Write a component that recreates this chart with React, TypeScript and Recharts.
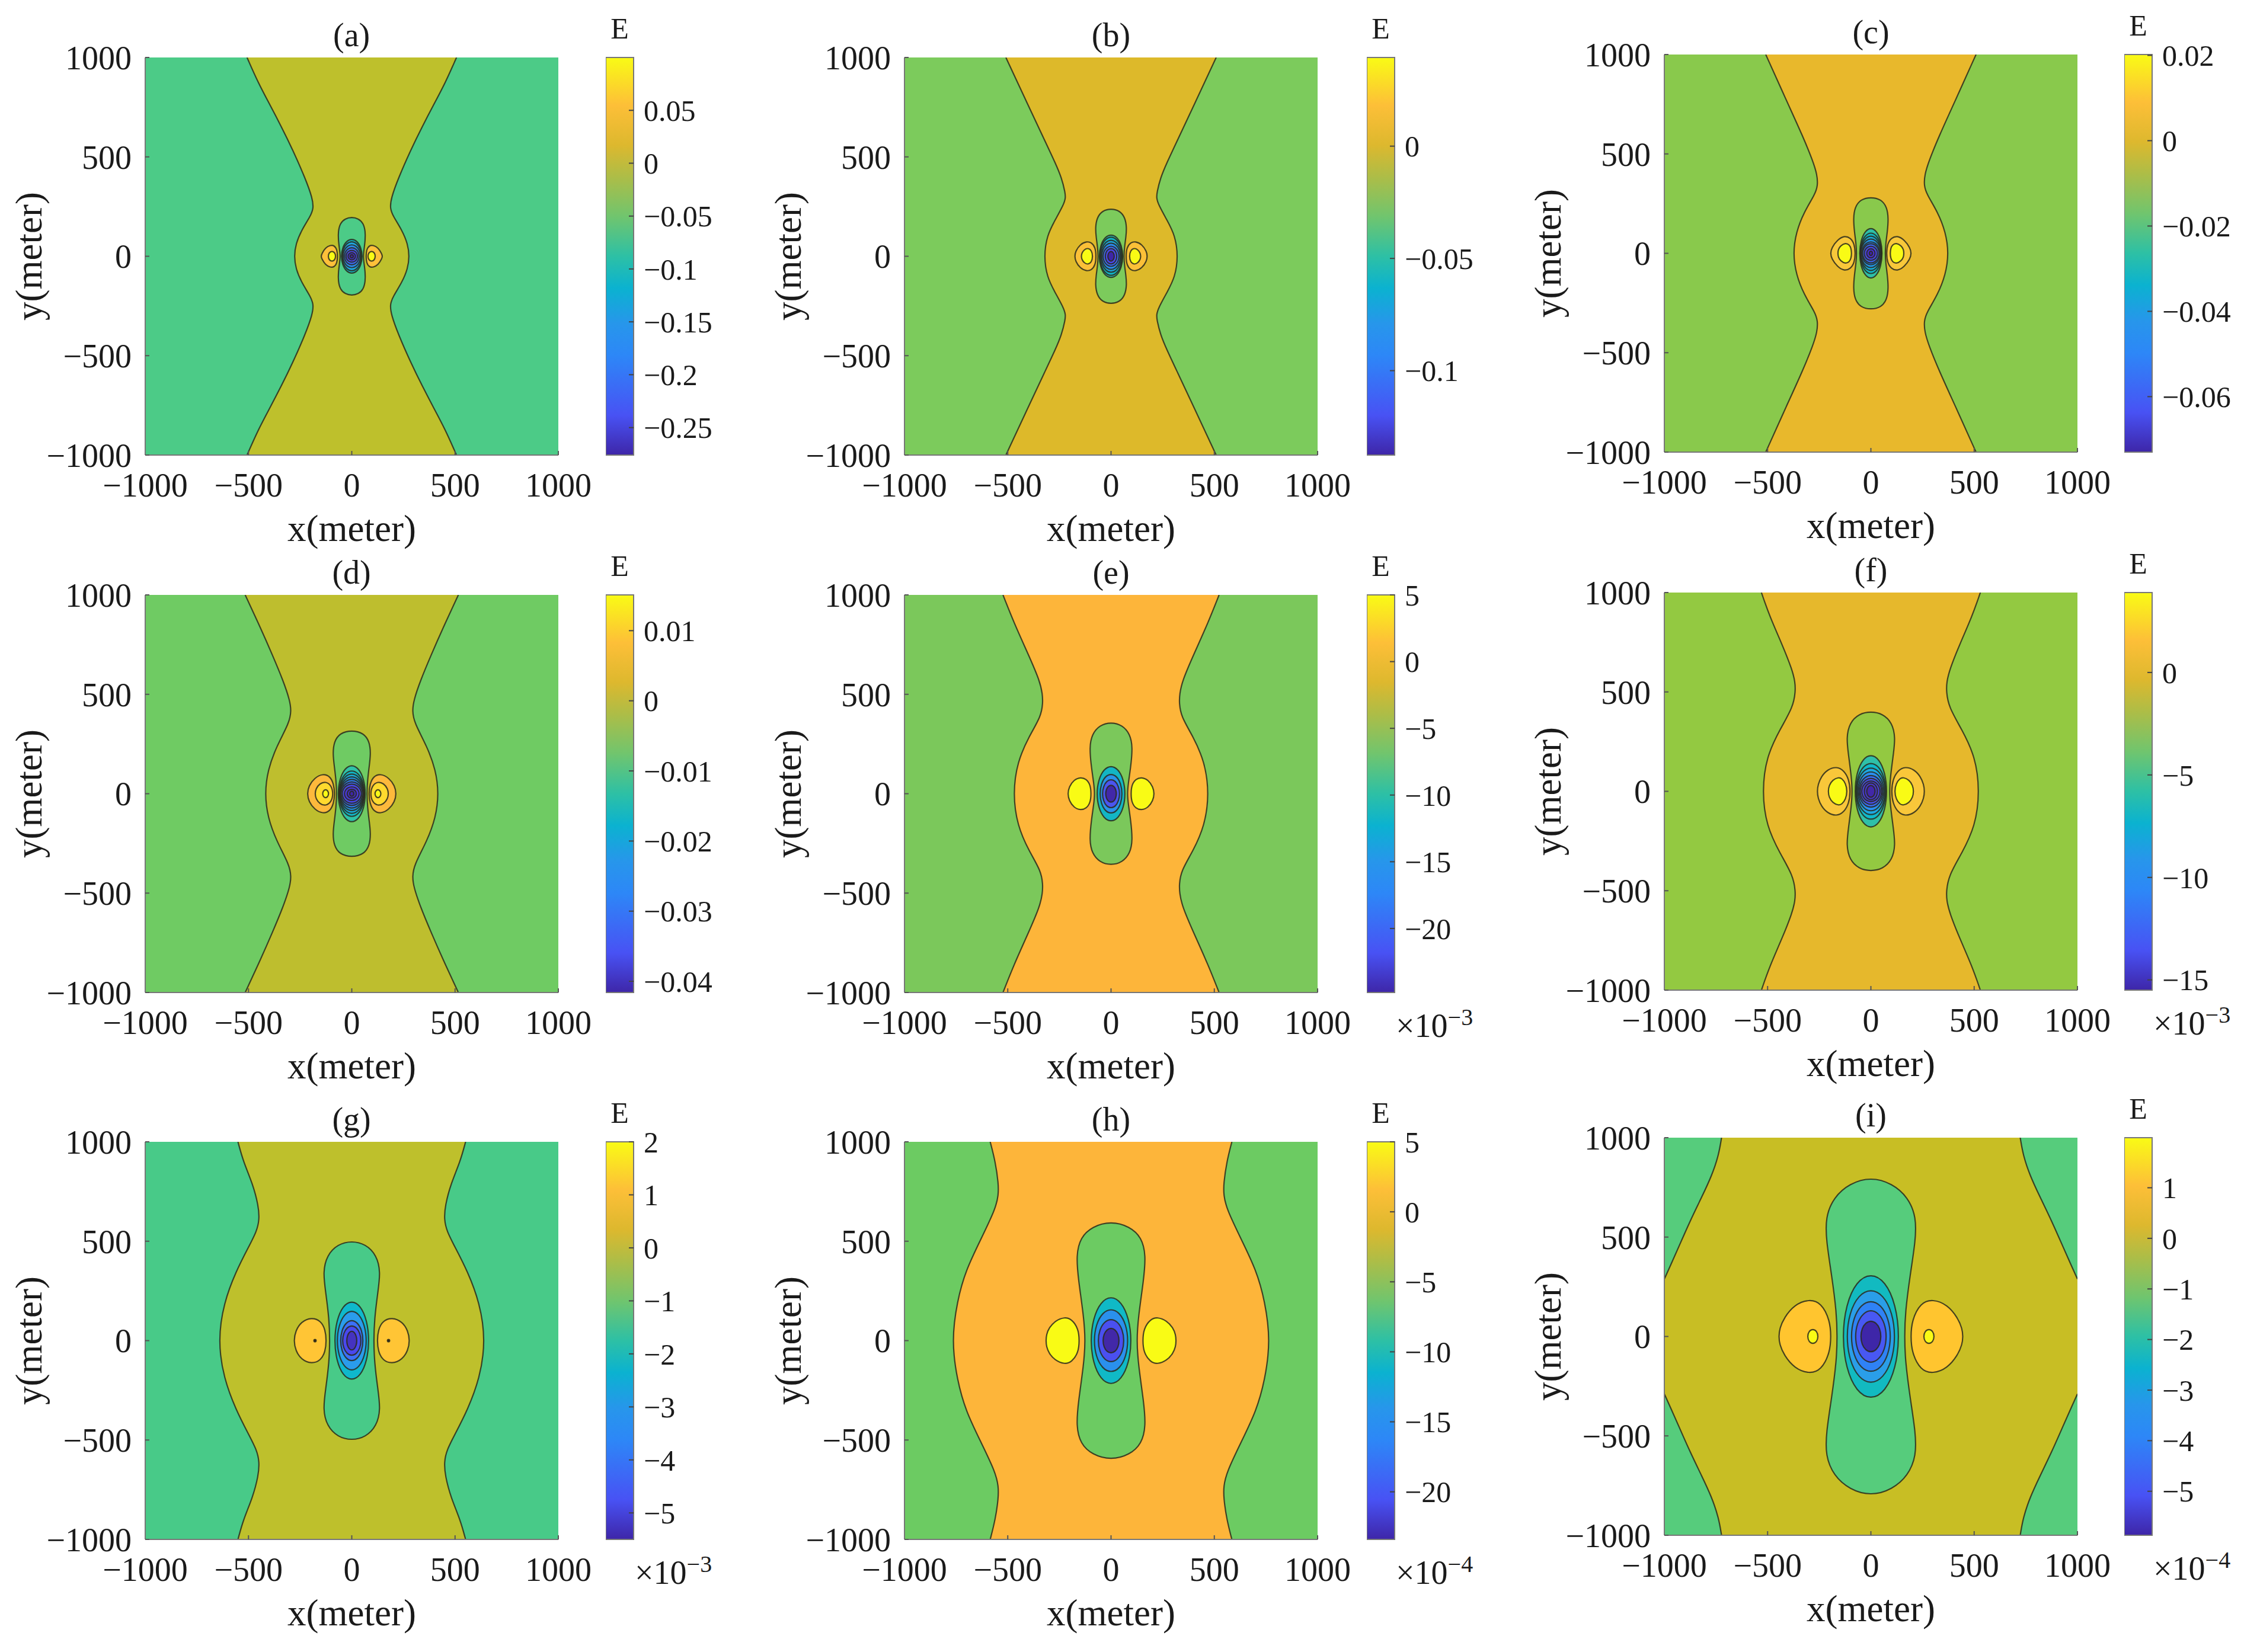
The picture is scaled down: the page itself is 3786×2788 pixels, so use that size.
import React from 'react';
import { ScatterChart, Scatter, XAxis, YAxis, ReferenceArea } from 'recharts';

type Pt = [number, number];

// contour outlines, in metres
// boundary = right hand outer contour, top edge down to y=0 (mirrored for the rest)
const boundaryA: Pt[] = [[507, 1000], [452, 870], [395, 760], [340, 650], [290, 545], [224, 390], [190, 291], [185, 241], [200, 202], [243, 132], [271, 63], [279, 0]];
const boundaryB: Pt[] = [[509, 1000], [415, 790], [315, 569], [270, 470], [239, 394], [222, 320], [220, 294], [229, 260], [272, 180], [310, 105], [325, 0]];
const boundaryC: Pt[] = [[509, 1000], [405, 760], [330, 590], [281, 465], [260, 395], [257, 340], [271, 296], [324, 207], [362, 107], [377, 0]];
const boundaryD: Pt[] = [[516, 1000], [440, 830], [385, 700], [331, 566], [300, 470], [293, 417], [302, 358], [364, 239], [407, 119], [421, 0]];
const boundaryE: Pt[] = [[523, 1000], [470, 860], [400, 700], [344, 566], [332, 500], [330, 457], [339, 388], [397, 289], [454, 160], [475, 0]];
const boundaryF: Pt[] = [[530, 1000], [490, 880], [430, 740], [381, 612], [367, 550], [365, 503], [377, 423], [439, 314], [506, 175], [527, 0]];
const boundaryG: Pt[] = [[551, 1000], [525, 900], [480, 790], [452, 680], [447, 610], [460, 550], [500, 470], [560, 350], [620, 190], [648, 0]];
const boundaryH: Pt[] = [[585, 1000], [560, 900], [545, 790], [545, 733], [559, 663], [630, 510], [703, 355], [745, 200], [772, 0]];
const boundaryI: Pt[] = [[723, 1000], [737, 911], [771, 807], [818, 703], [875, 582], [933, 444], [970, 358], [1000, 289]];

// peanut = first negative contour round the centre, one quadrant
const peanutA: Pt[] = [[0, 197], [32, 190], [56, 167], [66, 125], [65, 80], [60, 40], [55, 0]];
const peanutB: Pt[] = [[0, 240], [43, 229], [68, 195], [76, 145], [72, 95], [65, 45], [62, 0]];
const peanutC: Pt[] = [[0, 283], [50, 272], [78, 232], [85, 175], [80, 110], [72, 50], [69, 0]];
const peanutD: Pt[] = [[0, 320], [58, 305], [86, 262], [92, 200], [84, 135], [76, 65], [73, 0]];
const peanutE: Pt[] = [[0, 360], [55, 345], [92, 300], [105, 235], [95, 130], [83, 50], [79, 0]];
const peanutF: Pt[] = [[0, 402], [58, 390], [103, 345], [119, 270], [108, 180], [94, 70], [90, 0]];
const peanutG: Pt[] = [[0, 502], [68, 485], [120, 430], [140, 345], [125, 236], [110, 110], [106, 0]];
const peanutH: Pt[] = [[0, 601], [91, 574], [148, 519], [169, 430], [158, 305], [132, 120], [124, 0]];
const peanutI: Pt[] = [[0, 802], [103, 770], [180, 700], [220, 600], [216, 480], [190, 310], [166, 120], [163, 0]];

// lobes = positive contours on the right of the centre, upper half, inner side to outer side
const lobesA: Pt[][] = [
  [[69, 0], [71, 33], [85, 55], [104, 56], [128, 43], [145, 13], [149, 0]],
  [[77, 0], [82, 19], [96, 27], [110, 19], [115, 0]],
];
const lobesB: Pt[][] = [
  [[72, 0], [76, 45], [95, 70], [118, 75], [150, 60], [172, 25], [176, 0]],
  [[88, 0], [94, 30], [112, 42], [130, 34], [142, 15], [144, 0]],
];
const lobesC: Pt[][] = [
  [[75, 0], [80, 48], [99, 78], [128, 89], [162, 68], [190, 28], [196, 0]],
  [[93, 0], [96, 25], [104, 43], [123, 53], [147, 38], [158, 20], [160, 0]],
];
const lobesD: Pt[][] = [
  [[82, 0], [88, 50], [105, 88], [140, 101], [180, 80], [208, 40], [216, 0]],
  [[90, 0], [98, 40], [125, 62], [155, 52], [174, 25], [178, 0]],
  [[111, 0], [116, 16], [128, 22], [138, 14], [142, 0]],
];
const lobesE: Pt[][] = [
  [[96, 0], [100, 45], [120, 75], [148, 83], [180, 70], [203, 35], [210, 0]],
];
const lobesF: Pt[][] = [
  [[99, 0], [106, 60], [130, 105], [166, 125], [210, 110], [240, 75], [256, 35], [260, 0]],
  [[114, 0], [122, 40], [140, 65], [157, 71], [185, 58], [203, 30], [207, 0]],
];
const lobesG: Pt[][] = [
  [[123, 0], [128, 55], [150, 100], [195, 117], [245, 95], [272, 50], [281, 0]],
  [[170, 0], [178, 9], [186, 0]],
];
const lobesH: Pt[][] = [
  [[153, 0], [158, 60], [190, 108], [225, 119], [270, 100], [300, 65], [313, 30], [315, 0]],
];
const lobesI: Pt[][] = [
  [[193, 0], [198, 80], [240, 170], [300, 188], [370, 160], [420, 95], [442, 40], [446, 0]],
  [[254, 0], [262, 28], [281, 38], [300, 28], [308, 0]],
];

// rings = nested contours at the centre, one quadrant each, outermost first
const ringsA: Pt[][] = [
  [[0, 88], [26, 77], [45, 44], [52, 0]], [[0, 76], [24, 66], [42, 38], [48, 0]], [[0, 60], [22, 52], [38, 30], [44, 0]],
  [[0, 45], [19, 39], [32, 22], [37, 0]], [[0, 31], [15, 27], [25, 16], [29, 0]], [[0, 19], [10, 16], [16, 9], [19, 0]],
  [[0, 8], [4, 7], [7, 4], [8, 0]],
];
const ringsB: Pt[][] = [
  [[0, 111], [30, 97], [51, 56], [59, 0]], [[0, 100], [28, 87], [49, 50], [56, 0]], [[0, 84], [26, 73], [45, 42], [52, 0]],
  [[0, 69], [24, 60], [41, 34], [47, 0]], [[0, 53], [20, 46], [35, 26], [40, 0]], [[0, 40], [15, 35], [25, 20], [29, 0]],
  [[0, 25], [8, 22], [14, 12], [16, 0]],
];
const ringsC: Pt[][] = [
  [[0, 130], [28, 113], [49, 65], [56, 0]], [[0, 106], [27, 92], [47, 53], [54, 0]], [[0, 90], [26, 78], [45, 45], [52, 0]],
  [[0, 75], [25, 65], [44, 38], [50, 0]], [[0, 60], [23, 52], [40, 30], [46, 0]], [[0, 50], [21, 44], [36, 25], [42, 0]],
  [[0, 37], [17, 32], [29, 19], [33, 0]], [[0, 24], [10, 21], [18, 12], [21, 0]], [[0, 11], [4, 10], [7, 6], [8, 0]],
];
const ringsD: Pt[][] = [
  [[0, 147], [34, 128], [59, 74], [68, 0]], [[0, 119], [32, 104], [56, 60], [64, 0]], [[0, 103], [31, 90], [54, 52], [62, 0]],
  [[0, 88], [30, 77], [52, 44], [60, 0]], [[0, 75], [29, 65], [50, 38], [58, 0]], [[0, 62], [27, 54], [47, 31], [54, 0]],
  [[0, 50], [24, 44], [42, 25], [48, 0]], [[0, 36], [19, 31], [32, 18], [37, 0]], [[0, 23], [12, 20], [20, 12], [23, 0]],
  [[0, 13], [5, 11], [9, 7], [10, 0]],
];
const ringsE: Pt[][] = [
  [[0, 142], [35, 124], [61, 71], [70, 0]], [[0, 101], [28, 88], [48, 50], [55, 0]], [[0, 73], [22, 64], [37, 36], [43, 0]],
  [[0, 44], [14, 38], [23, 22], [27, 0]],
];
const ringsF: Pt[][] = [
  [[0, 187], [40, 163], [69, 94], [79, 0]], [[0, 146], [38, 127], [65, 73], [75, 0]], [[0, 122], [36, 106], [62, 61], [71, 0]],
  [[0, 102], [33, 89], [57, 51], [66, 0]], [[0, 83], [30, 72], [52, 42], [60, 0]], [[0, 68], [27, 59], [47, 34], [54, 0]],
  [[0, 54], [23, 47], [40, 27], [46, 0]], [[0, 44], [17, 38], [29, 22], [33, 0]], [[0, 31], [10, 27], [18, 16], [21, 0]],
];
const ringsG: Pt[][] = [
  [[0, 202], [43, 176], [74, 101], [85, 0]], [[0, 154], [36, 134], [63, 77], [73, 0]], [[0, 105], [28, 91], [49, 52], [56, 0]],
  [[0, 77], [23, 67], [40, 38], [46, 0]], [[0, 49], [12, 43], [22, 24], [25, 0]],
];
const ringsH: Pt[][] = [
  [[0, 225], [50, 196], [87, 112], [100, 0]], [[0, 162], [42, 141], [73, 81], [84, 0]], [[0, 110], [32, 96], [56, 55], [64, 0]],
  [[0, 64], [20, 56], [35, 32], [40, 0]],
];
const ringsI: Pt[][] = [
  [[0, 319], [70, 278], [121, 160], [139, 0]], [[0, 240], [60, 209], [104, 120], [119, 0]], [[0, 183], [49, 159], [85, 92], [98, 0]],
  [[0, 135], [38, 117], [67, 68], [77, 0]], [[0, 80], [25, 70], [44, 40], [50, 0]],
];

const titles = ['(a)', '(b)', '(c)', '(d)', '(e)', '(f)', '(g)', '(h)', '(i)'];
const boundaries = [boundaryA, boundaryB, boundaryC, boundaryD, boundaryE, boundaryF, boundaryG, boundaryH, boundaryI];
const peanuts = [peanutA, peanutB, peanutC, peanutD, peanutE, peanutF, peanutG, peanutH, peanutI];
const lobes = [lobesA, lobesB, lobesC, lobesD, lobesE, lobesF, lobesG, lobesH, lobesI];
const rings = [ringsA, ringsB, ringsC, ringsD, ringsE, ringsF, ringsG, ringsH, ringsI];

const middleColors = ['#BEC02C', '#DDB92A', '#E8B82C', '#BEBE2E', '#FDB53A', '#E6B82C', '#BEC02C', '#FDB53A', '#C8BE24'];
const sideColors = ['#4CCB87', '#7CCB5C', '#89C94C', '#6FCB63', '#7BC85B', '#93C941', '#48CA88', '#6CCB62', '#56CC7C'];
const lobeColors = [
  ['#FFC03A', '#F9FB15'], ['#FBC038', '#F9FB15'], ['#F8C83A', '#F9FB15'], ['#FDB93C', '#FFDA2E', '#F9FB15'], ['#F9FB15'],
  ['#F9C73A', '#F9FB15'], ['#FFC535', '#3A2A10'], ['#F9FB15'], ['#FFC52F', '#F9FB15'],
];
const ringColors = [
  ['#12B9C6', '#1FA8E2', '#2C8CF0', '#3E6CF8', '#4A48EE', '#4233C8', '#3E26A8'],
  ['#2DBFAE', '#0FB8C9', '#1EA8E0', '#2A8CF0', '#3E6CF8', '#4A48EE', '#3E26A8'],
  ['#2FC0A8', '#0FB8C9', '#1AAEDD', '#2096E8', '#2C82F4', '#3C68F8', '#4A48EE', '#4A30D8', '#3E26A8'],
  ['#2FC2A8', '#10B8CA', '#1AAEDD', '#2096E8', '#2C82F4', '#3C68F8', '#4A48EE', '#4A38DC', '#4230C0', '#3E26A8'],
  ['#13B6C4', '#2A92EA', '#4B55F0', '#4228A8'],
  ['#2FC0A8', '#10B8CA', '#1EA8E2', '#2A90F0', '#3A70F8', '#4852F0', '#4A40E0', '#4838D0', '#4228A8'],
  ['#0FB8CC', '#2A9CEC', '#3C70F8', '#4A48EE', '#4533C0'],
  ['#10B9C6', '#2A90EC', '#4A50F0', '#4228A8'],
  ['#12BAC0', '#2A9EE8', '#2F82F5', '#4858F2', '#3E26A8'],
];

const colorbarDomains: Pt[] = [[-0.276, 0.1], [-0.1376, 0.0395], [-0.073, 0.0202], [-0.0416, 0.0151], [-24.8, 5], [-15.5, 3.9], [-5.5, 2], [-23.4, 5], [-5.87, 1.99]];
const colorbarTicks = [
  [-0.25, -0.2, -0.15, -0.1, -0.05, 0, 0.05],
  [-0.1, -0.05, 0],
  [-0.06, -0.04, -0.02, 0, 0.02],
  [-0.04, -0.03, -0.02, -0.01, 0, 0.01],
  [-20, -15, -10, -5, 0, 5],
  [-15, -10, -5, 0],
  [-5, -4, -3, -2, -1, 0, 1, 2],
  [-20, -15, -10, -5, 0, 5],
  [-5, -4, -3, -2, -1, 0, 1],
];
const colorbarExponents = ['', '', '', '', '-3', '-3', '-3', '-4', '-4'];

const axisTicks = [-1000, -500, 0, 500, 1000];
const parulaStops: [number, string][] = [
  [0, '#3E26A8'], [0.1, '#4852F4'], [0.25, '#2D87F7'], [0.33, '#2796EB'], [0.42, '#0BB2D0'], [0.5, '#2DC0A5'],
  [0.6, '#70C56E'], [0.7, '#ADBD47'], [0.78, '#DDB82E'], [0.88, '#FDBF38'], [1, '#F9FB15'],
];

// page layout
const FONT = '"Liberation Serif", "Times New Roman", serif';
const colLeft = [244.6, 1526, 2808];
const colorbarLeft = [1022, 2306, 3584];
const rowTop = [[96.6, 1004, 1927], [96.6, 1004, 1927], [92, 1000, 1919.5]];
const PLOT_W = 697;
const PLOT_H = 671;
const BAR_W = 47;
const PAD_TOP = 60;
const PAD_RIGHT = 100;
const PAD_LEFT = 240;

const toRows = (pts: Pt[]) => pts.map(([x, y]) => ({ x, y }));
const pin = (p: Pt): Pt[] => [p, p, p];
const flipX = (pts: Pt[]) => pts.map(([x, y]) => [-x, y] as Pt);
const fmt = (v: number) => String(v).replace('-', '\u2212');

// quadrant (top -> y=0) to a closed loop
function quadrantLoop(q: Pt[]): Pt[] {
  const n = q.length;
  const lowerRight = q.slice(0, n - 1).reverse().map(([x, y]) => [x, -y] as Pt);
  const lowerLeft = q.slice(1).map(([x, y]) => [-x, -y] as Pt);
  const upperLeft = q.slice(1, n - 1).reverse().map(([x, y]) => [-x, y] as Pt);
  return [...q, ...lowerRight, ...lowerLeft, ...upperLeft];
}

// upper half outline to a closed loop
function halfLoop(h: Pt[]): Pt[] {
  return [...h, ...h.slice(1, h.length - 1).reverse().map(([x, y]) => [x, -y] as Pt)];
}

// the boundary pieces on the right of the plot, each with the plot corners it fills
function sidePieces(b: Pt[]): { fill: Pt[]; line: Pt[] }[] {
  const last = b[b.length - 1];
  if (last[1] !== 0) {
    const top = b;
    const bottom = b.map(([x, y]) => [x, -y] as Pt);
    const piece = (c: Pt[], corner: Pt) => ({
      fill: [...pin(c[0]), ...c.slice(1, -1), ...pin(c[c.length - 1]), ...pin(corner)],
      line: [...pin(c[0]), ...c.slice(1, -1), ...pin(c[c.length - 1])],
    });
    return [piece(top, [1000, 1000]), piece(bottom, [1000, -1000])];
  }
  const whole = [...b, ...b.slice(0, -1).reverse().map(([x, y]) => [x, -y] as Pt)];
  const line = [...pin(whole[0]), ...whole.slice(1, -1), ...pin(whole[whole.length - 1])];
  return [{ fill: [...line, ...pin([1000, -1000]), ...pin([1000, 1000])], line }];
}

const NoPoint = () => <g />;

function contour(key: string, pts: Pt[], fill: string, stroke: boolean, type: string) {
  return (
    <Scatter
      key={key}
      data={toRows(pts)}
      shape={NoPoint}
      lineJointType={type as any}
      line={{ fill, stroke: stroke ? '#2A2A1C' : 'none', strokeWidth: 2.2, strokeOpacity: 0.85 }}
      isAnimationActive={false}
    />
  );
}

const plotFrame: Pt[] = [[-1000, -1000], [1000, -1000], [1000, 1000], [-1000, 1000]];

function Panel({ index, left, top }: { index: number; left: number; top: number }) {
  const tickStyle = { fontFamily: FONT, fontSize: 56, fill: '#1a1a1a' };
  const labelStyle = { fontFamily: FONT, fontSize: 63, fill: '#1a1a1a' };
  const axisLine = { stroke: '#777777', strokeWidth: 2 };
  const tickLine = { stroke: '#555555', strokeWidth: 2 };
  const pieces = sidePieces(boundaries[index]);
  return (
    <div style={{ position: 'absolute', left: left - PAD_LEFT, top: top - PAD_TOP }}>
      <ScatterChart width={PAD_LEFT + PLOT_W + PAD_RIGHT} height={PAD_TOP + PLOT_H + 170} margin={{ top: PAD_TOP, right: PAD_RIGHT, bottom: 0, left: 0 }}>
        <XAxis xAxisId={0} dataKey="x" type="number" domain={[-1000, 1000]} ticks={axisTicks} interval={0} height={170} allowDataOverflow
          tick={tickStyle} tickFormatter={fmt} tickSize={-7} tickMargin={37} axisLine={axisLine} tickLine={tickLine} zIndex={700}
          label={{ value: 'x(meter)', position: 'insideBottom', offset: 25, style: labelStyle }} />
        <YAxis yAxisId={0} dataKey="y" type="number" domain={[-1000, 1000]} ticks={axisTicks} interval={0} width={PAD_LEFT} allowDataOverflow
          tick={tickStyle} tickFormatter={fmt} tickSize={-7} tickMargin={30} axisLine={axisLine} tickLine={tickLine} zIndex={700}
          label={{ value: 'y(meter)', angle: -90, position: 'insideLeft', offset: 43, style: { ...labelStyle, textAnchor: 'middle' } }} />
        <XAxis xAxisId="top" orientation="top" type="number" domain={[-1000, 1000]} ticks={axisTicks} interval={0} height={0} allowDataOverflow
          tick={false} tickSize={-7} axisLine={axisLine} tickLine={tickLine} zIndex={700} />
        <YAxis yAxisId="right" orientation="right" type="number" domain={[-1000, 1000]} ticks={axisTicks} interval={0} width={0} allowDataOverflow
          tick={false} tickSize={-7} axisLine={axisLine} tickLine={tickLine} zIndex={700} />

        {contour('frame', plotFrame, middleColors[index], false, 'linearClosed')}
        {pieces.map((p, i) => contour(`sr${i}`, p.fill, sideColors[index], false, 'basisClosed'))}
        {pieces.map((p, i) => contour(`sl${i}`, flipX(p.fill), sideColors[index], false, 'basisClosed'))}
        {pieces.map((p, i) => contour(`br${i}`, p.line, 'none', true, 'basis'))}
        {pieces.map((p, i) => contour(`bl${i}`, flipX(p.line), 'none', true, 'basis'))}
        {contour('peanut', quadrantLoop(peanuts[index]), sideColors[index], true, 'basisClosed')}
        {lobes[index].map((h, i) => contour(`lr${i}`, halfLoop(h), lobeColors[index][i], true, 'basisClosed'))}
        {lobes[index].map((h, i) => contour(`ll${i}`, flipX(halfLoop(h)), lobeColors[index][i], true, 'basisClosed'))}
        {rings[index].map((q, i) => contour(`ring${i}`, quadrantLoop(q), ringColors[index][i], true, 'basisClosed'))}
      </ScatterChart>
    </div>
  );
}

function Colorbar({ index, left, top }: { index: number; left: number; top: number }) {
  const [lo, hi] = colorbarDomains[index];
  const gradientId = `parula${index}`;
  return (
    <div style={{ position: 'absolute', left, top: top - 40 }}>
      <ScatterChart width={BAR_W + 170} height={PLOT_H + 80} margin={{ top: 40, right: 0, bottom: 40, left: 0 }}>
        <defs>
          <linearGradient id={gradientId} x1="0" y1="1" x2="0" y2="0">
            {parulaStops.map(([o, c]) => <stop key={o} offset={o} stopColor={c} />)}
          </linearGradient>
        </defs>
        <XAxis dataKey="x" type="number" domain={[0, 1]} hide allowDataOverflow />
        <YAxis dataKey="y" orientation="right" type="number" domain={[lo, hi]} ticks={colorbarTicks[index]} interval={0} width={170} allowDataOverflow
          tick={{ fontFamily: FONT, fontSize: 50, fill: '#1a1a1a' }} tickFormatter={fmt} tickSize={-8} tickMargin={25}
          axisLine={false} tickLine={{ stroke: '#444444', strokeWidth: 2 }} zIndex={700} />
        <ReferenceArea x1={0} x2={1} y1={lo} y2={hi} fill={`url(#${gradientId})`} fillOpacity={1} stroke="#777777" strokeWidth={2} ifOverflow="visible" />
      </ScatterChart>
    </div>
  );
}

export default function App() {
  const textBase: React.CSSProperties = { position: 'absolute', fontFamily: FONT, color: '#1a1a1a', lineHeight: 1, whiteSpace: 'nowrap' };
  return (
    <div style={{ position: 'absolute', left: 0, top: 0, width: 3786, height: 2788, background: '#ffffff', overflow: 'hidden' }}>
      {titles.map((title, i) => {
        const col = i % 3;
        const row = Math.floor(i / 3);
        const left = colLeft[col];
        const top = rowTop[col][row];
        const barLeft = colorbarLeft[col];
        return (
          <React.Fragment key={title}>
            <Panel index={i} left={left} top={top} />
            <Colorbar index={i} left={barLeft} top={top} />
            <div style={{ ...textBase, left, width: PLOT_W, top: top - 66, textAlign: 'center', fontSize: 56 }}>{title}</div>
            <div style={{ ...textBase, left: barLeft, width: BAR_W, top: top - 74, textAlign: 'center', fontSize: 50 }}>E</div>
            {colorbarExponents[i] && (
              <div style={{ ...textBase, left: barLeft + BAR_W + 2, top: top + PLOT_H + 28, fontSize: 56 }}>
                {'\u00d710'}
                <sup style={{ fontSize: 40, lineHeight: 0 }}>{fmt(Number(colorbarExponents[i]))}</sup>
              </div>
            )}
          </React.Fragment>
        );
      })}
    </div>
  );
}
